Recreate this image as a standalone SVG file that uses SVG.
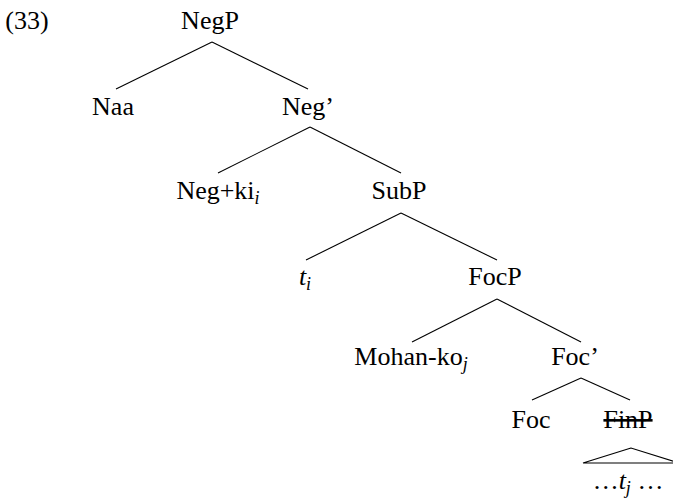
<svg xmlns="http://www.w3.org/2000/svg" width="673" height="504" viewBox="0 0 673 504">
<style>
text{font-family:"Liberation Serif","Times New Roman",serif;font-size:26px;fill:#000;text-anchor:middle}
.it{font-style:italic}
.sub{font-style:italic;font-size:18px}
.edge{stroke:#000;stroke-width:1.1;fill:none}
.strike{text-decoration:line-through}
</style>
<rect width="673" height="504" fill="#fff"/>
<text x="27" y="29">(33)</text>
<g id="connectors">
<line class="edge" x1="212" y1="42" x2="116" y2="89"/>
<line class="edge" x1="212" y1="42" x2="308" y2="89"/>
<line class="edge" x1="310" y1="127" x2="218" y2="173"/>
<line class="edge" x1="310" y1="127" x2="401" y2="173"/>
<line class="edge" x1="401" y1="213" x2="306" y2="260"/>
<line class="edge" x1="401" y1="213" x2="497" y2="260"/>
<line class="edge" x1="497" y1="299" x2="412" y2="342"/>
<line class="edge" x1="497" y1="299" x2="581" y2="342"/>
<line class="edge" x1="581" y1="378" x2="532" y2="400"/>
<line class="edge" x1="581" y1="378" x2="630" y2="400"/>
<polygon class="edge" points="631,448 583,463 679,463"/>
</g>
<g id="NegP"><text x="210" y="29">NegP</text></g>
<g id="Naa"><text x="113" y="115">Naa</text></g>
<g id="NegBar"><text x="308" y="115">Neg’</text></g>
<g id="NegKi"><text x="218" y="199">Neg+ki<tspan class="sub" dy="5">i</tspan></text></g>
<g id="SubP"><text x="399" y="199">SubP</text></g>
<g id="ti"><text x="305" y="285"><tspan class="it">t</tspan><tspan class="sub" dy="5">i</tspan></text></g>
<g id="FocP"><text x="495" y="285">FocP</text></g>
<g id="MohanKo"><text x="411" y="365">Mohan-ko<tspan class="sub" dy="5">j</tspan></text></g>
<g id="FocBar"><text x="575" y="365">Foc’</text></g>
<g id="Foc"><text x="531" y="428">Foc</text></g>
<g id="FinP"><text class="strike" x="628" y="428">FinP</text></g>
<g id="tj"><text x="628" y="489">…<tspan class="it">t</tspan><tspan class="sub" dy="5">j</tspan><tspan dy="-5"> …</tspan></text></g>
</svg>
